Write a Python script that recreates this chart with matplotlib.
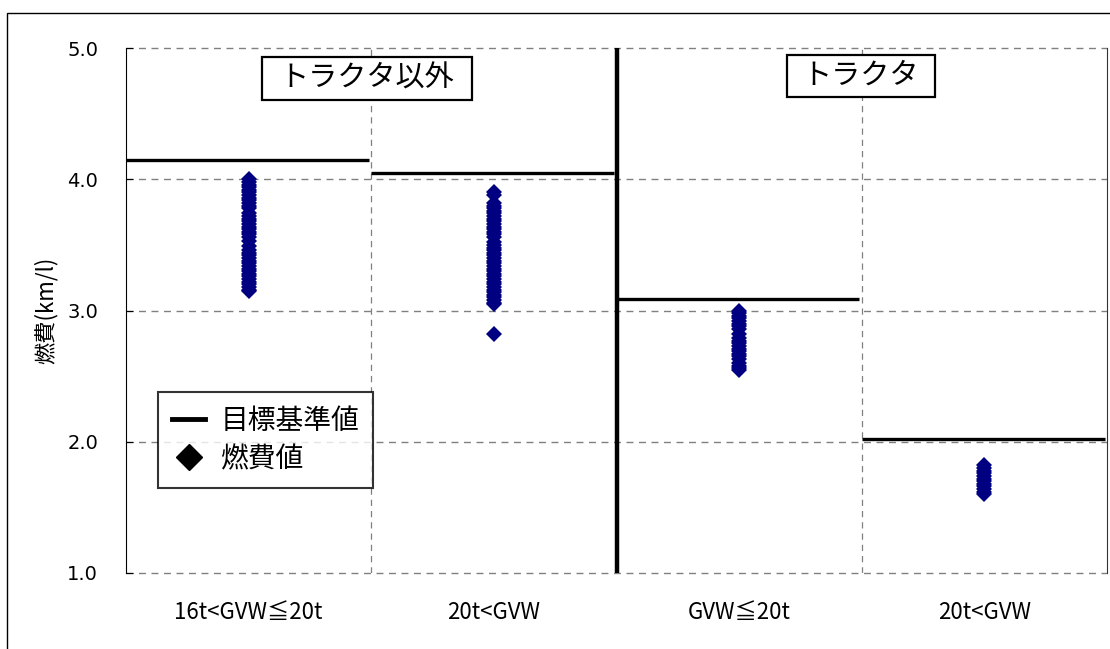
import matplotlib
matplotlib.use("Agg")
import matplotlib.pyplot as plt
from matplotlib.patches import Rectangle
from matplotlib.lines import Line2D

plt.rcParams['font.family'] = ['Noto Sans CJK JP', 'DejaVu Sans']

categories = ["16t<GVW≦20t", "20t<GVW", "GVW≦20t", "20t<GVW"]
targets = [4.15, 4.05, 3.09, 2.02]
fuel_cat1 = [4.00, 3.98, 3.96, 3.94, 3.92, 3.90, 3.88, 3.86, 3.84, 3.82, 3.80,
             3.78, 3.74, 3.72, 3.70, 3.68, 3.66, 3.64, 3.62, 3.60, 3.58, 3.56,
             3.53, 3.49, 3.46, 3.44, 3.42, 3.40, 3.38, 3.36, 3.34, 3.32, 3.30,
             3.28, 3.26, 3.24, 3.22, 3.20, 3.18, 3.16, 3.15]
fuel_cat2 = [3.90, 3.88, 3.82, 3.80, 3.78, 3.76, 3.74, 3.72, 3.70, 3.68, 3.66,
             3.64, 3.62, 3.60, 3.58, 3.56, 3.52, 3.50, 3.48, 3.46, 3.44, 3.42,
             3.40, 3.38, 3.36, 3.34, 3.32, 3.30, 3.28, 3.26, 3.24, 3.22, 3.20,
             3.18, 3.16, 3.14, 3.12, 3.10, 3.08, 3.06, 3.05, 2.82]
fuel_cat3 = [3.00, 2.98, 2.96, 2.94, 2.92, 2.90, 2.88, 2.86, 2.82, 2.79, 2.77,
             2.75, 2.73, 2.71, 2.69, 2.67, 2.65, 2.63, 2.60, 2.58, 2.56, 2.55]
fuel_cat4 = [1.82, 1.80, 1.78, 1.76, 1.74, 1.72, 1.70, 1.68, 1.66, 1.64, 1.62, 1.60]
group_titles = ["トラクタ以外", "トラクタ"]
y_ticks = [1.0, 2.0, 3.0, 4.0, 5.0]

fig = plt.figure(figsize=(11.10, 6.49), dpi=100)
fig.patches.append(Rectangle((7/1110, -0.05), 1.1, 1 - 13/649 + 0.05,
                             transform=fig.transFigure, fill=False,
                             edgecolor='black', linewidth=1.0))
ax = fig.add_axes([126/1110, 1 - 573/649, 981/1110, 525/649])

ax.set_xlim(-0.5, 3.5)
ax.set_ylim(1.0, 5.0)

# grid lines
for yv in y_ticks:
    ax.axhline(yv, color='#808080', linestyle=(0, (5, 4)), linewidth=1.0,
               zorder=1, clip_on=False)
for xv in [0.5, 2.5]:
    ax.axvline(xv, color='#808080', linestyle=(0, (5, 4)), linewidth=0.9, zorder=1)
ax.axvline(1.5, color='black', linewidth=3.2, zorder=3)

# targets
for i, t in enumerate(targets):
    ax.hlines(t, i - 0.5, i + 0.49, color='black', linewidth=2.4, zorder=4)

series = [fuel_cat1, fuel_cat2, fuel_cat3, fuel_cat4]
for i, vals in enumerate(series):
    ax.plot([i] * len(vals), vals, linestyle='none', marker='D', markersize=8.5,
            color='#000080', markeredgewidth=0, zorder=5)

for sp in ['top', 'bottom']:
    ax.spines[sp].set_visible(False)
ax.spines['left'].set_color('black')
ax.spines['left'].set_zorder(6)
ax.spines['right'].set_color('#333333')

ax.set_yticks(y_ticks)
ax.set_yticklabels([f"{v:.1f}" for v in y_ticks], fontsize=14, family='DejaVu Sans')
ax.set_xticks(range(4))
ax.set_xticklabels(categories, fontsize=16)
ax.tick_params(axis='y', direction='in', length=5, pad=20)
ax.tick_params(axis='x', length=0, pad=20)
ax.set_ylabel("燃費(km/l)", fontsize=16, labelpad=7)

# group title boxes
ax.add_patch(Rectangle((0.1386, 0.901), 0.2141, 0.082, transform=ax.transAxes,
                       facecolor='white', edgecolor='black', linewidth=1.6, zorder=6))
ax.add_patch(Rectangle((0.6738, 0.9067), 0.1509, 0.080, transform=ax.transAxes,
                       facecolor='white', edgecolor='black', linewidth=1.6, zorder=6))
ax.text(0.2457, 0.942, group_titles[0], transform=ax.transAxes, ha='center', va='center',
        fontsize=21, zorder=7)
ax.text(0.749, 0.9467, group_titles[1], transform=ax.transAxes, ha='center', va='center',
        fontsize=21, zorder=7)

handles = [Line2D([], [], color='black', linewidth=3.5),
           Line2D([], [], color='black', marker='D', linestyle='none', markersize=13)]
leg = ax.legend(handles, ["目標基準値", "燃費値"], loc='lower left',
                bbox_to_anchor=(0.0326, 0.162), fontsize=20, frameon=True,
                fancybox=False, edgecolor='black', handlelength=1.2,
                borderpad=0.5, labelspacing=0.3, handletextpad=0.55,
                borderaxespad=0)
leg.get_frame().set_linewidth(1.5)
leg.set_zorder(8)

fig.savefig("out.png", dpi=100)
